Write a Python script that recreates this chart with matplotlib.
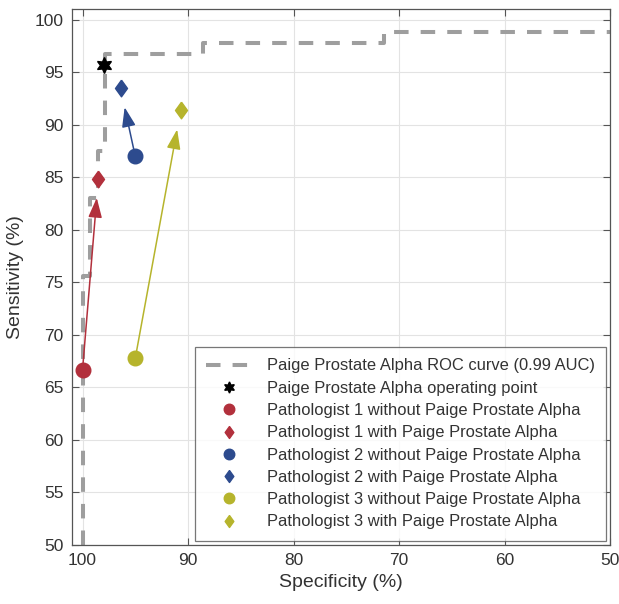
import matplotlib
matplotlib.use("Agg")
import matplotlib.pyplot as plt

plt.rcParams['font.family'] = ['Liberation Sans', 'DejaVu Sans']

# ROC curve (specificity %, sensitivity %), step shape
roc_spec = [100, 100, 99.3, 99.3, 98.5, 98.5, 97.9, 97.9, 88.6, 88.6, 71.4, 71.4, 50]
roc_sens = [50, 75.6, 75.6, 83.0, 83.0, 87.5, 87.5, 96.8, 96.8, 97.8, 97.8, 98.9, 98.9]

op_spec, op_sens = 98.0, 95.7

pathologists = ['Pathologist 1', 'Pathologist 2', 'Pathologist 3']
without_spec = [100.0, 95.0, 95.0]
without_sens = [66.7, 87.0, 67.8]
with_spec = [98.5, 96.4, 90.7]
with_sens = [84.9, 93.5, 91.4]
colors = ['#B2303C', '#2D4B8E', '#B6B42C']

text_color = '#333333'
diamond = [(0, 1), (0.72, 0), (0, -1), (-0.72, 0), (0, 1)]

fig = plt.figure(figsize=(6.19, 6.04), dpi=100)
ax = fig.add_axes([0.1163, 0.0977, 0.8692, 0.8866])

ax.plot(roc_spec, roc_sens, color='#9E9E9E', lw=2.9, dashes=(3.6, 3.0),
        label='Paige Prostate Alpha ROC curve (0.99 AUC)', zorder=2)
ax.plot(op_spec, op_sens, ls='none', marker=(6, 1, 0), ms=11.5, color='black',
        label='Paige Prostate Alpha operating point', zorder=5)

for i, name in enumerate(pathologists):
    c = colors[i]
    ax.annotate('', xy=(with_spec[i], with_sens[i]),
                xytext=(without_spec[i], without_sens[i]),
                arrowprops=dict(arrowstyle='-|>,head_length=1.2,head_width=0.42',
                                color=c, lw=1.1, shrinkA=0, shrinkB=14),
                zorder=3)
    ax.plot(without_spec[i], without_sens[i], ls='none', marker='o', ms=10.5,
            color=c, label=name + ' without Paige Prostate Alpha', zorder=4)
    ax.plot(with_spec[i], with_sens[i], ls='none', marker=diamond, ms=12,
            color=c, label=name + ' with Paige Prostate Alpha', zorder=4)

ax.set_xlim(101, 50)
ax.set_ylim(50, 101)
ax.set_xticks([100, 90, 80, 70, 60, 50])
ax.set_yticks(range(50, 101, 5))
ax.grid(True, color='#E3E3E3', lw=0.8)
ax.set_axisbelow(True)
ax.tick_params(direction='in', top=True, right=True, labelsize=12.5,
               colors='#555555', labelcolor=text_color, length=5, width=0.8, pad=6)
for s in ax.spines.values():
    s.set_color('#555555')
    s.set_linewidth(0.9)

ax.set_xlabel('Specificity (%)', fontsize=14, color=text_color, labelpad=4)
ax.set_ylabel('Sensitivity (%)', fontsize=14, color=text_color, labelpad=8)

leg = ax.legend(loc='lower right', bbox_to_anchor=(0.993, 0.0075), fontsize=11.9,
                frameon=True, fancybox=False, edgecolor='#555555',
                handlelength=2.7, handletextpad=0.95, labelspacing=0.44,
                borderpad=0.7, borderaxespad=0)
leg.get_frame().set_linewidth(0.9)
for t in leg.get_texts():
    t.set_color(text_color)
for h in leg.legend_handles[1:]:
    h.set_markersize(h.get_markersize() * 0.72)
leg.legend_handles[1].set_markersize(8)

fig.savefig('out.png', dpi=100)
